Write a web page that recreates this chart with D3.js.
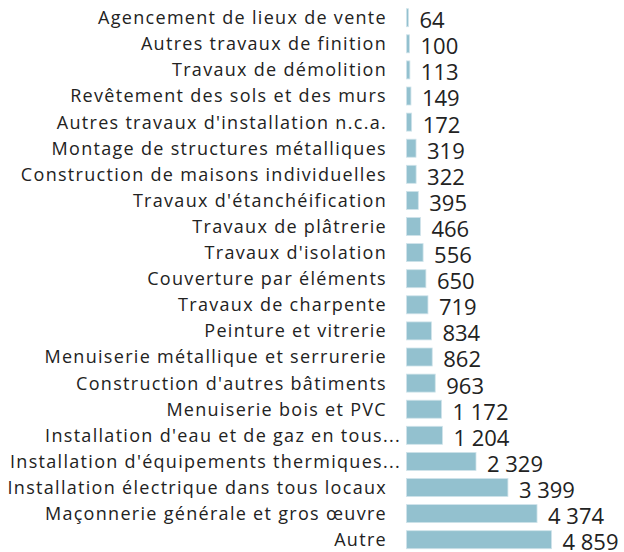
<!DOCTYPE html>
<html lang="fr">
<head>
  <meta charset="UTF-8">
  <title>Bar chart</title>
  <script src="https://d3js.org/d3.v7.min.js"></script>
  <style>
    body { margin: 0; background: #fff; font-family: "Open Sans", sans-serif; }
  </style>
</head>
<body>
  <div id="chart"></div>
  <script>
    // Categories and values
    const categories = [
      "Agencement de lieux de vente",
      "Autres travaux de finition",
      "Travaux de démolition",
      "Revêtement des sols et des murs",
      "Autres travaux d'installation n.c.a.",
      "Montage de structures métalliques",
      "Construction de maisons individuelles",
      "Travaux d'étanchéification",
      "Travaux de plâtrerie",
      "Travaux d'isolation",
      "Couverture par éléments",
      "Travaux de charpente",
      "Peinture et vitrerie",
      "Menuiserie métallique et serrurerie",
      "Construction d'autres bâtiments",
      "Menuiserie bois et PVC",
      "Installation d'eau et de gaz en tous...",
      "Installation d'équipements thermiques...",
      "Installation électrique dans tous locaux",
      "Maçonnerie générale et gros œuvre",
      "Autre"
    ];
    const values = [64, 100, 113, 149, 172, 319, 322, 395, 466, 556, 650, 719, 834, 862, 963, 1172, 1204, 2329, 3399, 4374, 4859];

    const width = 624;
    const height = 552;
    const barLeft = 406.5;
    const topY = 8.7;
    const step = 26.1;
    const pad = 0.31;

    const svg = d3.select("#chart")
      .append("svg")
      .attr("width", width)
      .attr("height", height);

    const x = d3.scaleLinear()
      .domain([0, 4859])
      .range([barLeft, barLeft + 145]);

    const y = d3.scaleBand()
      .domain(categories)
      .range([topY, topY + step * (categories.length - pad)])
      .paddingInner(pad)
      .paddingOuter(0);

    const fmt = d3.formatLocale({ decimal: ",", thousands: "\u00a0", grouping: [3], currency: ["", "€"] }).format(",d");

    // Bars
    svg.selectAll("rect.bar")
      .data(values)
      .enter()
      .append("rect")
      .attr("class", "bar")
      .attr("x", x(0))
      .attr("y", (d, i) => y(categories[i]))
      .attr("width", d => x(d) - x(0))
      .attr("height", y.bandwidth())
      .attr("fill", "#93c1cf")
      .attr("stroke", "#cfe3ea")
      .attr("stroke-width", 0.8);

    // Category labels
    svg.selectAll("text.cat")
      .data(categories)
      .enter()
      .append("text")
      .attr("class", "cat")
      .attr("x", d => d.endsWith("...") ? 401 : 387)
      .attr("y", d => y(d) + y.bandwidth() / 2)
      .attr("dy", "0.36em")
      .attr("text-anchor", "end")
      .attr("font-size", 18)
      .attr("letter-spacing", "1.3px")
      .attr("fill", "#222")
      .text(d => d);

    // Value labels
    svg.selectAll("text.val")
      .data(values)
      .enter()
      .append("text")
      .attr("class", "val")
      .attr("x", d => x(d) + 11)
      .attr("y", (d, i) => y(categories[i]) + y.bandwidth() / 2 + 2.5)
      .attr("dy", "0.36em")
      .attr("font-size", 22)
      .attr("fill", "#222")
      .text(d => fmt(d));
  </script>
</body>
</html>
